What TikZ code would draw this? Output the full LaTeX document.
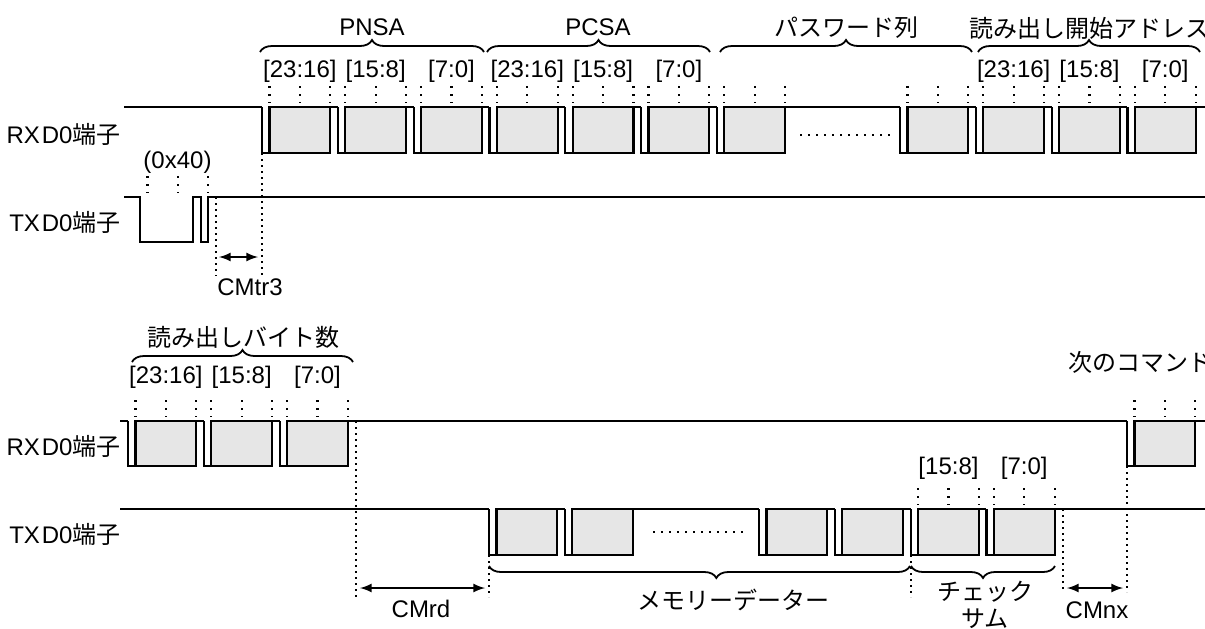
\documentclass[tikz,border=0pt]{standalone}
\usepackage{fontspec}
\setmainfont{Liberation Sans}
\newfontfamily\jp{Noto Sans CJK JP}
\usepackage{xcolor}
\usetikzlibrary{arrows}
\usetikzlibrary{decorations.pathreplacing, math}
\definecolor{boxgray}{RGB}{230,230,230}

% one byte: start x, high y, low y
\newcommand{\sbyte}[3]{%
\draw[sig] (#1,#2) -- (#1,#3) -- (#1+\wbit,#3);
\draw[sig,fill=boxgray] (#1+\wbit,#2) rectangle (#1+\wbit+\wbox,#3);
\draw[sig] (#1+\wbit+\wbox,#2) -- (#1+\wbyte,#2);
}
% bit ticks above a byte: start x, high y
\newcommand{\sticks}[2]{%
\foreach \k in {1,5,9}
\draw[tickdots] (#1+\k*\wbit,#2-21) -- (#1+\k*\wbit,#2-4);
}

\begin{document}
\begin{tikzpicture}[x=0.5pt,y=-0.5pt,
every node/.style={font=\fontsize{12}{13.5}\selectfont,inner sep=0pt},
jptext/.style={font=\fontsize{12}{13.5}\selectfont\jp},
sig/.style={line width=1.1pt},
tickdots/.style={line width=1.1pt,dash pattern=on 1.1pt off 2.9pt},
guide/.style={line width=1.1pt,dash pattern=on 1.1pt off 1.9pt},
gapdots/.style={line width=1pt,dash pattern=on 1pt off 3pt},
cmarrow/.style={latex-latex,line width=1pt},
grp/.style={decorate,decoration={brace,amplitude=6pt},line width=0.9pt}]
\tikzmath{
\wbit=7.58;
\wbox=8*\wbit;
\wbyte=10*\wbit;
}
\useasboundingbox (0,0) rectangle (1205,628);

%signal names
\node[anchor=east] (rx1) at (121,134) {RX\kern1pt D0{\jp 端子}};
\node[anchor=east] (tx1) at (121,222) {TX\kern1pt D0{\jp 端子}};
\node[anchor=east] (rx2) at (121,446) {RX\kern1pt D0{\jp 端子}};
\node[anchor=east] (tx2) at (121,534) {TX\kern1pt D0{\jp 端子}};

%upper RXD0
\draw[sig] (124,107) -- (262,107);
\foreach \x in {262,337.8,413.6,489.4,565.2,641,716.8,900,975.8,1051.6,1127.4}{
\sbyte{\x}{107}{153}
\sticks{\x}{107}
}
\draw[sig] (792.6,107) -- (900,107);
\draw[sig] (1203,107) -- (1206,107);
\draw[gapdots] (800,135) -- (892,135);

\foreach \x/\t [count=\i] in {299.9/{[23:16]},375.7/{[15:8]},451.5/{[7:0]},
527.3/{[23:16]},603.1/{[15:8]},678.9/{[7:0]},
1013.7/{[23:16]},1089.5/{[15:8]},1165.3/{[7:0]}}
\node (ua\i) at (\x,71) {\t};

\draw[grp] (260,52) -- (484,52);
\draw[grp] (487,52) -- (710,52);
\draw[grp] (720,52) -- (972,52);
\draw[grp] (978,52) -- (1200,52);
\node (pnsa) at (372,27) {PNSA};
\node (pcsa) at (598,27) {PCSA};
\node[jptext] (pwd) at (846,28) {パスワード列};
\node[jptext] (addr) at (1089,28) {読み出し開始アドレス};

%upper TXD0 (0x40)
\draw[sig] (124,197) -- (140,197) -- (140,242) -- (193.1,242) -- (193.1,197)
-- (200.6,197) -- (200.6,242) -- (208.2,242) -- (208.2,197) -- (1206,197);
\sticks{140}{197}
\node (cmd) at (177.5,162) {(0x40)};

\coordinate (txend) at (216,197);
\coordinate (txendb) at (216,276);
\coordinate (rxbeg) at (262,153);
\coordinate (rxbegb) at (262,276);
\draw[guide] (txend) -- (txendb);
\draw[guide] (rxbeg) -- (rxbegb);
\coordinate (tr3a) at (219,257);
\coordinate (tr3b) at (258,257);
\draw[cmarrow] (tr3a) -- (tr3b);
\node (cmtr) at (250,287) {CMtr3};

%lower RXD0
\draw[sig] (120,421) -- (128,421);
\foreach \x in {128,203.8,279.6,1127}{
\sbyte{\x}{421}{466}
\sticks{\x}{421}
}
\draw[sig] (355.4,421) -- (1127,421);
\draw[sig] (1202.8,421) -- (1206,421);
\foreach \x/\t [count=\i] in {165.9/{[23:16]},241.7/{[15:8]},317.5/{[7:0]}}
\node (la\i) at (\x,377) {\t};
\draw[grp] (132,362) -- (353,362);
\node[jptext] (cnt) at (243,337) {読み出しバイト数};
\node[jptext] (next) at (1140,362) {次のコマンド};

%lower TXD0
\draw[sig] (120,509) -- (489,509);
\foreach \x in {489,564.8,759,834.8,910.6,986.4}
\sbyte{\x}{509}{555}
\sticks{910.6}{509}
\sticks{986.4}{509}
\draw[sig] (640.6,509) -- (759,509);
\draw[sig] (1062.2,509) -- (1206,509);
\draw[gapdots] (653,532) -- (745,532);
\node (sa) at (948.5,468) {[15:8]};
\node (sb) at (1024.3,468) {[7:0]};

\draw[grp,decoration={mirror,aspect=0.54}] (489,566) -- (910,566);
\draw[grp,decoration={mirror}] (911,566) -- (1055,566);
\node[jptext] (mem) at (733,600) {メモリーデーター};
\node[jptext,align=center] (sum) at (985,605) {チェック\\サム};

%timing gaps
\coordinate (rdend) at (356,421);
\coordinate (rdendb) at (356,597);
\coordinate (txbeg) at (489,555);
\coordinate (txbegb) at (489,597);
\coordinate (sumbeg) at (910.6,555);
\coordinate (sumbegb) at (910.6,597);
\coordinate (sumend) at (1063,509);
\coordinate (sumendb) at (1063,592);
\coordinate (nxbeg) at (1127,466);
\coordinate (nxbegb) at (1127,592);
\draw[guide] (rdend) -- (rdendb);
\draw[guide] (txbeg) -- (txbegb);
\draw[guide] (sumbeg) -- (sumbegb);
\draw[guide] (sumend) -- (sumendb);
\draw[guide] (nxbeg) -- (nxbegb);

\coordinate (rda) at (360,588);
\coordinate (rdb) at (485,588);
\coordinate (nxa) at (1067,588);
\coordinate (nxb) at (1123,588);
\draw[cmarrow] (rda) -- (rdb);
\draw[cmarrow] (nxa) -- (nxb);
\node (cmrd) at (421,609) {CMrd};
\node (cmnx) at (1097,610) {CMnx};
\end{tikzpicture}
\end{document}
